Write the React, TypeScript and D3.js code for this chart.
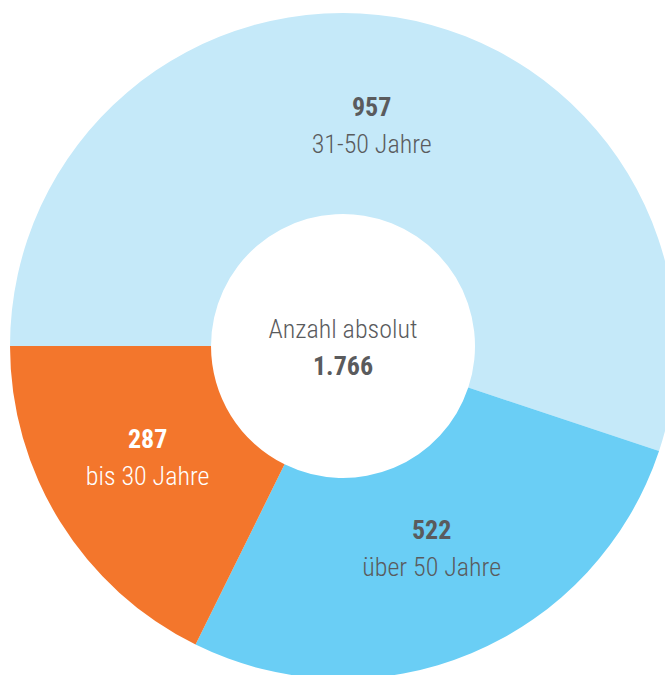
import React from "react";
import * as d3 from "d3";

// Data
const categories = ["31-50 Jahre", "über 50 Jahre", "bis 30 Jahre"];
const displayValues = ["957", "522", "287"];
// slice sizes as drawn in the picture (share of the full circle, %)
const sliceShares = [55.1, 27.2, 17.7];
const centerTitle = "Anzahl absolut";
const centerValue = "1.766";

const colors = ["#c5e9f9", "#6acef5", "#f3762c"];
const textColors = ["#5a5b5d", "#5a5b5d", "#ffffff"];

const W = 665;
const H = 675;
const cx = 343;
const cy = 346;
const outerR = 333;
const innerR = 132;
const labelR = 230;
// small manual offsets for label placement
const labelNudge: [number, number][] = [
  [-8, 16],
  [0, 0],
  [0, 0],
];

const FONT = "'Roboto Condensed', 'Liberation Sans Narrow', 'DejaVu Sans Condensed', sans-serif";

export default function App() {
  const data = categories.map((c, i) => ({ c, v: sliceShares[i], i }));
  const pie = d3
    .pie<any>()
    .value((d) => d.v)
    .sort(null)
    .startAngle(-Math.PI / 2)
    .endAngle((3 * Math.PI) / 2);
  const arcs = pie(data);
  const arc = d3.arc<any>().innerRadius(innerR).outerRadius(outerR);
  const labelArc = d3.arc<any>().innerRadius(labelR).outerRadius(labelR);

  return (
    <svg
      width={W}
      height={H}
      style={{ position: "absolute", left: 0, top: 0, background: "#fff" }}
      fontFamily={FONT}
    >
      <g transform={`translate(${cx},${cy})`}>
        {arcs.map((a, i) => (
          <path key={i} d={arc(a) as string} fill={colors[i]} />
        ))}
        {arcs.map((a, i) => {
          const [x, y] = labelArc.centroid(a);
          const lx = x + labelNudge[i][0];
          const ly = y + labelNudge[i][1];
          return (
            <g key={"l" + i} textAnchor="middle" fill={textColors[i]}>
              <text x={lx} y={ly - 19} fontSize={26} fontWeight="bold">
                {displayValues[i]}
              </text>
              <text x={lx} y={ly + 18} fontSize={26} fontWeight={300}>
                {categories[i]}
              </text>
            </g>
          );
        })}
        <text x={0} y={-8} textAnchor="middle" fontSize={26} fontWeight={300} fill="#5a5b5d">
          {centerTitle}
        </text>
        <text x={0} y={29} textAnchor="middle" fontSize={26} fontWeight="bold" fill="#5a5b5d">
          {centerValue}
        </text>
      </g>
    </svg>
  );
}
